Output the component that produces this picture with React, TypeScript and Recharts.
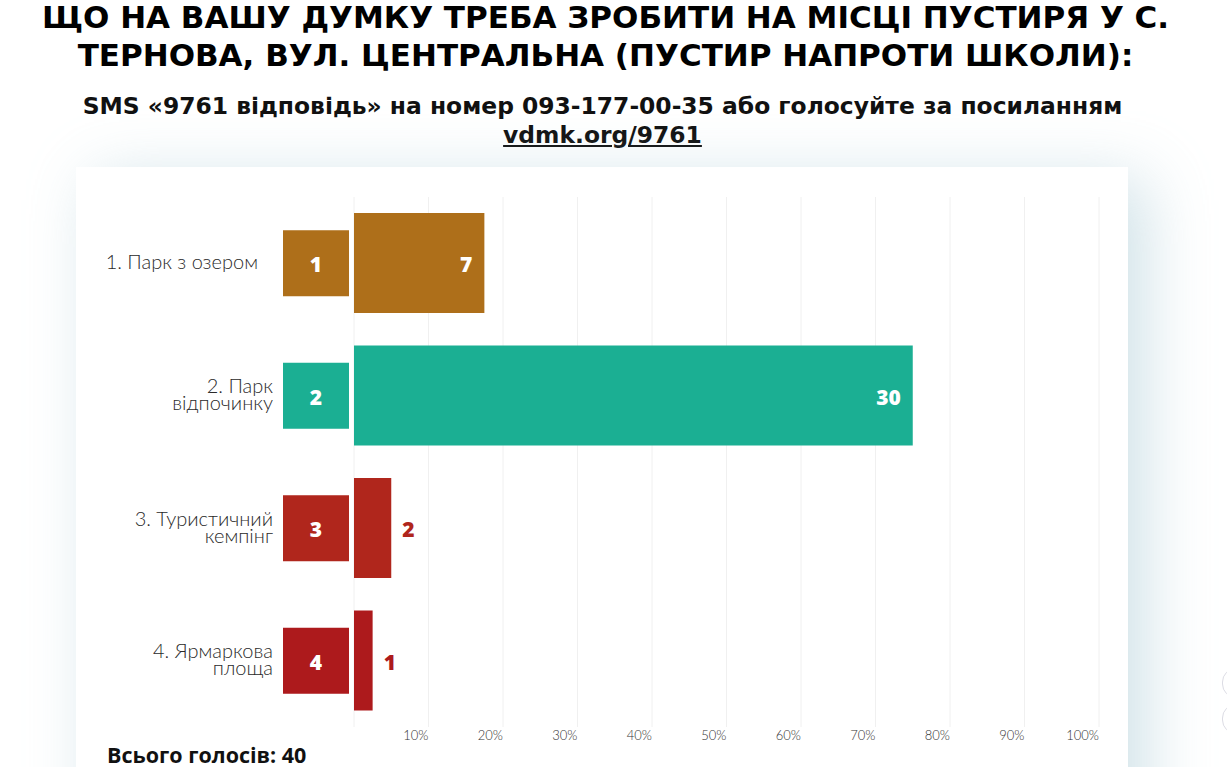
import React from "react";
import { BarChart, Bar, XAxis, YAxis, CartesianGrid, Cell, LabelList } from "recharts";

const categories = ["1. Парк з озером", "2. Парк\nвідпочинку", "3. Туристичний\nкемпінг", "4. Ярмаркова\nплоща"];
const votes = [7, 30, 2, 1];
const colors = ["#AE6F1A", "#1BAF93", "#B0261C", "#AD1A1C"];
const percentTicks = [0, 10, 20, 30, 40, 50, 60, 70, 80, 90, 100];
const totalVotes = 40;

const titleLines = ["ЩО НА ВАШУ ДУМКУ ТРЕБА ЗРОБИТИ НА МІСЦІ ПУСТИРЯ У С.", "ТЕРНОВА, ВУЛ. ЦЕНТРАЛЬНА (ПУСТИР НАПРОТИ ШКОЛИ):"];
const subtitle = "SMS «9761 відповідь» на номер 093-177-00-35 або голосуйте за посиланням";
const linkText = "vdmk.org/9761";
const totalLabel = "Всього голосів: ";

const data = categories.map((c, i) => ({
  name: c,
  votes: votes[i],
  pct: (votes[i] / totalVotes) * 100,
}));

const PLOT_LEFT = 354;
const PLOT_TOP = 197;
const PLOT_BOTTOM = 727;
const PLOT_RIGHT = 1099;
const W = 1227;
const H = 767;

const labelFont = "Lato, 'Open Sans', sans-serif";
const boldFont = "'Open Sans', 'Noto Sans', sans-serif";
const headFont = "'DejaVu Sans', Verdana, sans-serif";

const CategoryTick = (props: any) => {
  const { y, payload, index } = props;
  const lines: string[] = String(payload.value).split("\n");
  const single = lines.length === 1;
  const rightX = PLOT_LEFT - (single ? 96 : 81);
  const lh = 17;
  const startY = y - ((lines.length - 1) * lh) / 2;
  return (
    <g>
      {lines.map((l, i) => (
        <text
          key={i}
          x={rightX}
          y={startY + i * lh + 6}
          textAnchor="end"
          fontFamily={labelFont}
          fontWeight={300}
          fontSize={20}
          fill="#2a2a2a"
        >
          {l}
        </text>
      ))}
      <rect x={PLOT_LEFT - 71} y={y - 33} width={66} height={66} fill={colors[index]} />
      <text
        x={PLOT_LEFT - 38}
        y={y + 1}
        textAnchor="middle"
        dominantBaseline="central"
        fontFamily={boldFont}
        fontWeight={800}
        fontSize={21}
        fill="#fff"
      >
        {index + 1}
      </text>
    </g>
  );
};

const PercentTick = (props: any) => {
  const { x, payload } = props;
  if (payload.value === 0) return null;
  return (
    <text
      x={x}
      y={PLOT_BOTTOM + 13}
      textAnchor="end"
      fontFamily={labelFont}
      fontWeight={300}
      fontSize={13}
      fill="#333"
    >
      {payload.value + "%"}
    </text>
  );
};

const ValueLabel = (props: any) => {
  const { x, y, width, height, value, index } = props;
  const inside = width > 60;
  return (
    <text
      x={inside ? x + width - 12 : x + width + 11}
      y={y + height / 2 + 1}
      textAnchor={inside ? "end" : "start"}
      dominantBaseline="central"
      fontFamily={boldFont}
      fontWeight={800}
      fontSize={21}
      fill={inside ? "#fff" : colors[index]}
    >
      {value}
    </text>
  );
};

export default function App() {
  return (
    <div style={{ position: "absolute", left: 0, top: 0, width: W, height: H, overflow: "hidden", background: "#fff" }}>
      <div
        style={{
          position: "absolute",
          left: -8,
          top: -2,
          width: W,
          textAlign: "center",
          fontFamily: headFont,
          fontWeight: 700,
          fontSize: 31,
          lineHeight: "38px",
          color: "#000",
          whiteSpace: "nowrap",
        }}
      >
        {titleLines.map((t, i) => (
          <div key={i}>{t}</div>
        ))}
      </div>
      <div
        style={{
          position: "absolute",
          left: -11,
          top: 92,
          width: W,
          textAlign: "center",
          fontFamily: headFont,
          fontWeight: 700,
          fontSize: 23.4,
          lineHeight: "29px",
          color: "#111",
          whiteSpace: "nowrap",
        }}
      >
        <div>{subtitle}</div>
        <div>
          <span style={{ textDecoration: "underline" }}>{linkText}</span>
        </div>
      </div>
      <div
        style={{
          position: "absolute",
          left: 76,
          top: 167,
          width: 1052,
          height: 700,
          background: "#fff",
          boxShadow: "18px 12px 60px rgba(150,190,205,0.45)",
        }}
      />
      <div style={{ position: "absolute", left: 1222, top: 668, width: 28, height: 28, borderRadius: 14, border: "1px solid #dcdce4" }} />
      <div style={{ position: "absolute", left: 1222, top: 704, width: 28, height: 28, borderRadius: 14, border: "1px solid #dcdce4" }} />
      <div style={{ position: "absolute", left: 0, top: 0 }}>
        <BarChart
          width={W}
          height={H}
          data={data}
          layout="vertical"
          margin={{ top: PLOT_TOP, right: W - PLOT_RIGHT, bottom: 0, left: 0 }}
          barCategoryGap={16}
        >
          <CartesianGrid horizontal={false} vertical={true} stroke="#f0f0f0" />
          <XAxis
            type="number"
            dataKey="pct"
            domain={[0, 100]}
            ticks={percentTicks}
            axisLine={false}
            tickLine={false}
            height={H - PLOT_BOTTOM}
            tick={<PercentTick />}
            interval={0}
          />
          <YAxis
            type="category"
            dataKey="name"
            width={PLOT_LEFT}
            axisLine={false}
            tickLine={false}
            tick={<CategoryTick />}
            interval={0}
          />
          <Bar dataKey="pct" barSize={100} isAnimationActive={false}>
            {data.map((d, i) => (
              <Cell key={i} fill={colors[i]} />
            ))}
            <LabelList dataKey="votes" content={<ValueLabel />} />
          </Bar>
        </BarChart>
      </div>
      <div
        style={{
          position: "absolute",
          left: 107,
          top: 740,
          fontFamily: boldFont,
          fontWeight: 700,
          fontSize: 21.5,
          lineHeight: "30px",
          color: "#111",
          whiteSpace: "nowrap",
        }}
      >
        {totalLabel}
        {totalVotes}
      </div>
    </div>
  );
}
